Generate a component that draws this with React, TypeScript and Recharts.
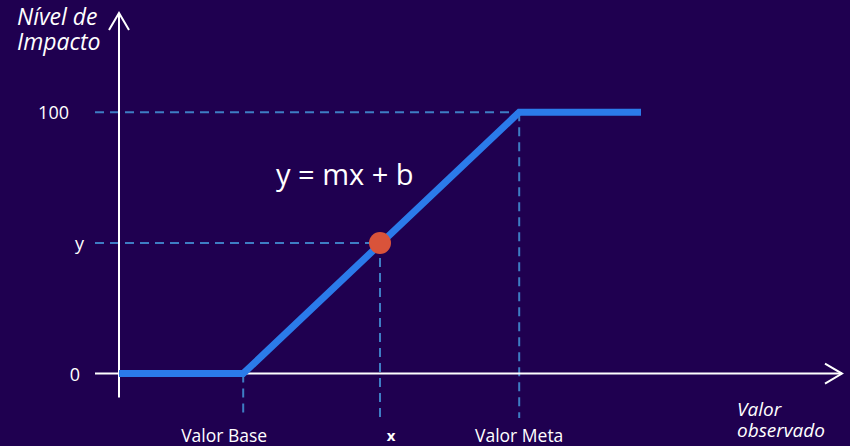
import React from "react";
import {
  LineChart, Line, XAxis, YAxis, ReferenceLine, ReferenceDot,
} from "recharts";

// impact curve: flat at 0 until base value, linear up to goal, flat at 100 after
const curveX = [0, 20.7, 66.7, 87];
const curveY = [0, 0, 100, 100];
const observedX = 43.5;
const observedY = 50;
const yTicks = [0, 50, 100];
const yTickLabels = ["0", "y", "100"];
const xTicks = [20.7, 43.5, 66.7];
const xTickLabels = ["Valor Base", "x", "Valor Meta"];

const data = curveX.map((x, i) => ({ x, y: curveY[i] }));

const BG = "#1F0050";
const BLUE = "#2B7BEA";
const DASH = "#3E7DC4";
const RED = "#D9533A";
const FONT = "'Open Sans', sans-serif";

function ArrowLine(props: any) {
  const { x1, y1, x2, y2 } = props;
  const dx = x2 - x1;
  const dy = y2 - y1;
  const len = Math.sqrt(dx * dx + dy * dy) || 1;
  const ux = dx / len;
  const uy = dy / len;
  const back = 17;
  const spread = 10;
  const bx = x2 - ux * back;
  const by = y2 - uy * back;
  const p1 = `${bx - uy * spread},${by + ux * spread}`;
  const p2 = `${bx + uy * spread},${by - ux * spread}`;
  return (
    <g>
      <line x1={x1} y1={y1} x2={x2} y2={y2} stroke="#FFFFFF" strokeWidth={2} />
      <polyline points={`${p1} ${x2},${y2} ${p2}`} fill="none" stroke="#FFFFFF" strokeWidth={2} />
    </g>
  );
}

function YTick(props: any) {
  const { y, payload } = props;
  const i = yTicks.indexOf(payload.value);
  const label = yTickLabels[i];
  const right = label === "100" ? 69 : label === "y" ? 84 : 80;
  return (
    <text x={right} y={y} textAnchor="end" dominantBaseline="central" fill="#FFFFFF" fontSize={18} fontFamily={FONT}>
      {label}
    </text>
  );
}

function XTick(props: any) {
  const { x, payload } = props;
  const i = xTicks.indexOf(payload.value);
  const label = xTickLabels[i];
  const shift = i === 0 ? -19 : i === 1 ? 11 : 0;
  return (
    <text x={x + shift} y={435} textAnchor="middle" dominantBaseline="central" fill="#FFFFFF"
      fontSize={i === 1 ? 15 : 17.5} fontWeight={i === 1 ? 700 : 400} fontFamily={FONT}>
      {label}
    </text>
  );
}

export default function App() {
  return (
    <div style={{ position: "absolute", left: 0, top: 0, width: 850, height: 446, background: BG, overflow: "hidden" }}>
      <LineChart width={850} height={446} data={data} margin={{ top: 13, right: 8, bottom: 0, left: 0 }}>
        <XAxis type="number" dataKey="x" domain={[-4, 120.5]} ticks={xTicks} tick={<XTick />}
          axisLine={false} tickLine={false} height={28} interval={0} />
        <YAxis type="number" domain={[-17, 138]} ticks={yTicks} tick={<YTick />}
          axisLine={false} tickLine={false} width={95} interval={0} />

        <ReferenceLine segment={[{ x: -4, y: 100 }, { x: curveX[2], y: 100 }]} stroke={DASH} strokeWidth={2} strokeDasharray="9 6" />
        <ReferenceLine segment={[{ x: -4, y: observedY }, { x: observedX, y: observedY }]} stroke={DASH} strokeWidth={2} strokeDasharray="9 6" />
        <ReferenceLine segment={[{ x: curveX[1], y: 0 }, { x: curveX[1], y: -17 }]} stroke={DASH} strokeWidth={2} strokeDasharray="9 6" />
        <ReferenceLine segment={[{ x: observedX, y: observedY }, { x: observedX, y: -17 }]} stroke={DASH} strokeWidth={2} strokeDasharray="9 6" />
        <ReferenceLine segment={[{ x: curveX[2], y: 100 }, { x: curveX[2], y: -17 }]} stroke={DASH} strokeWidth={2} strokeDasharray="9 6" />

        <ReferenceLine segment={[{ x: -4, y: 0 }, { x: 120.5, y: 0 }]} shape={ArrowLine} />
        <ReferenceLine segment={[{ x: 0, y: -9.2 }, { x: 0, y: 138 }]} shape={ArrowLine} />

        <Line type="linear" dataKey="y" stroke={BLUE} strokeWidth={7} dot={false} isAnimationActive={false} />
        <ReferenceDot x={observedX} y={observedY} r={11} fill={RED} stroke="none" />
      </LineChart>

      <div style={{ position: "absolute", left: 17, top: 4, fontFamily: FONT, fontStyle: "italic", fontSize: 23, lineHeight: "25px", color: "#FFFFFF" }}>
        Nível de<br />Impacto
      </div>
      <div style={{ position: "absolute", left: 737, top: 399, fontFamily: FONT, fontStyle: "italic", fontSize: 19, lineHeight: "21px", color: "#FFFFFF" }}>
        Valor<br />observado
      </div>
      <div style={{ position: "absolute", left: 276, top: 154, fontFamily: FONT, fontSize: 29, lineHeight: "40px", color: "#FFFFFF", whiteSpace: "nowrap" }}>
        y = mx + b
      </div>
    </div>
  );
}
